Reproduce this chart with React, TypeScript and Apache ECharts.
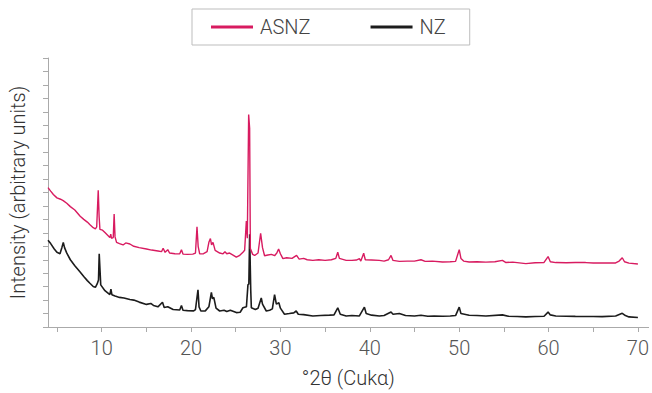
import React, { useEffect, useRef } from "react";
import * as echarts from "echarts";

// ASNZ (pink) diffractogram: 2θ positions and intensities (arbitrary units)
const asnzTheta = [
  4.0, 4.3, 4.6, 5.0, 5.4, 5.7, 6.1, 6.5, 7.0, 7.6, 8.0, 8.4, 8.7, 9.06, 9.3, 9.45, 9.62, 9.72, 9.81,
  10.1, 10.4, 10.7, 10.92, 11.02, 11.1, 11.3, 11.4, 11.5, 11.67, 12.0, 12.4, 12.7, 13.16, 13.6, 14.2,
  15.02, 15.6, 16.3, 16.7, 16.88, 17.1, 17.4, 17.6, 18.2, 18.74, 18.93, 19.1, 19.6, 20.2, 20.5, 20.67,
  20.8, 20.97, 21.4, 21.8, 22.0, 22.17, 22.3, 22.46, 22.7, 23.21, 23.58, 23.8, 24.0, 24.32, 24.7, 25.07,
  25.4, 25.81, 26.0, 26.19, 26.3, 26.45, 26.56, 26.64, 26.9, 27.12, 27.5, 27.79, 28.0, 28.23, 28.6, 29.0,
  29.35, 29.6, 29.8, 30.0, 30.28, 30.7, 31.3, 31.81, 32.1, 32.6, 33.0, 33.63, 34.3, 35.0, 35.7, 36.2,
  36.42, 36.6, 37.36, 38.0, 38.5, 38.84, 39.0, 39.32, 39.5, 40.2, 41.07, 41.6, 42.1, 42.38, 42.6, 43.31,
  44.2, 45.0, 45.73, 46.2, 47.0, 48.14, 49.0, 49.6, 50.01, 50.2, 50.5, 51.12, 52.0, 53.0, 54.0, 54.84,
  55.2, 56.0, 57.46, 58.5, 59.5, 59.95, 60.2, 60.81, 62.0, 63.0, 64.16, 65.0, 66.0, 67.51, 67.9, 68.25,
  68.5, 69.0, 70.0,
];
const asnzIntensity = [
  10.36, 10.1, 9.85, 9.6, 9.5, 9.4, 9.2, 8.95, 8.7, 8.23, 8.0, 7.8, 7.6, 7.38, 7.3, 7.45, 10.17, 8.2, 7.26,
  7.2, 7.0, 6.8, 6.65, 6.9, 6.6, 6.65, 8.4, 6.7, 6.29, 6.2, 6.1, 6.25, 6.17, 6.0, 5.9,
  5.8, 5.72, 5.65, 5.6, 5.85, 5.55, 5.75, 5.5, 5.45, 5.44, 5.75, 5.42, 5.4, 5.42, 5.5, 7.45,
  6.0, 5.44, 5.45, 5.6, 6.3, 6.58, 6.1, 6.29, 5.7, 5.5, 5.44, 5.6, 5.45, 5.5, 5.35, 5.19,
  5.3, 5.56, 5.7, 7.87, 6.6, 15.8, 14.78, 5.83, 5.4, 5.32, 5.5, 6.97, 5.9, 5.3, 5.35, 5.4,
  5.3, 5.5, 5.8, 5.45, 5.08, 5.15, 5.1, 5.32, 5.05, 5.1, 5.0, 4.95, 5.0, 4.95, 5.0, 5.1,
  5.56, 5.1, 4.95, 4.95, 4.98, 5.08, 4.9, 5.48, 5.0, 4.98, 4.95, 4.9, 5.0, 5.32, 4.95, 4.88,
  4.9, 4.9, 5.0, 4.88, 4.9, 4.83, 4.85, 4.88, 5.75, 5.1, 4.9, 4.83, 4.85, 4.82, 4.85, 4.95,
  4.8, 4.82, 4.71, 4.78, 4.8, 5.24, 4.85, 4.79, 4.78, 4.8, 4.79, 4.76, 4.77, 4.76, 4.9, 5.15,
  4.85, 4.75, 4.68,
];

// NZ (black) diffractogram
const nzTheta = [
  4.0, 4.3, 4.7, 5.0, 5.34, 5.55, 5.71, 5.85, 6.09, 6.5, 7.0, 7.57, 8.0, 8.4, 8.69, 9.06, 9.3, 9.5, 9.65,
  9.73, 9.85, 9.9, 10.37, 10.92, 11.04, 11.15, 11.5, 12.0, 12.5, 13.16, 13.6, 14.2, 15.02, 15.5, 15.8,
  16.3, 16.81, 17.0, 17.4, 18.0, 18.74, 18.93, 19.1, 19.6, 20.3, 20.5, 20.78, 20.9, 21.1, 21.6, 22.0,
  22.28, 22.4, 22.55, 22.8, 23.21, 23.7, 24.0, 24.4, 25.07, 25.5, 25.81, 26.2, 26.37, 26.47, 26.56,
  26.68, 26.75, 27.2, 27.5, 27.86, 28.0, 28.42, 28.8, 29.1, 29.35, 29.55, 29.83, 30.0, 30.46, 31.0,
  31.5, 31.77, 32.0, 32.6, 33.63, 34.5, 35.5, 36.0, 36.42, 36.7, 37.36, 38.0, 38.84, 39.4, 39.6, 40.2,
  41.07, 41.6, 42.38, 42.6, 43.31, 44.0, 45.0, 45.73, 46.5, 47.2, 48.14, 49.0, 49.6, 50.01, 50.2,
  51.12, 52.0, 53.0, 54.84, 55.5, 56.5, 57.46, 58.5, 59.5, 59.95, 60.2, 60.81, 62.0, 63.0, 64.16, 65.0,
  66.0, 67.51, 68.25, 68.6, 69.0, 70.0,
];
const nzIntensity = [
  6.45, 6.2, 5.8, 5.55, 5.45, 5.9, 6.29, 5.9, 5.51, 5.0, 4.55, 4.1, 3.75, 3.45, 3.25, 3.01, 2.95, 3.2, 3.5,
  5.44, 3.8, 3.13, 2.7, 2.4, 2.82, 2.4, 2.3, 2.2, 2.15, 2.04, 2.0, 1.85, 1.68, 1.75, 1.6,
  1.5, 1.84, 1.45, 1.5, 1.3, 1.26, 1.6, 1.25, 1.22, 1.2, 1.3, 2.77, 1.5, 1.19, 1.2, 1.5,
  2.57, 2.1, 2.2, 1.4, 1.19, 1.25, 1.15, 1.25, 1.07, 1.1, 1.43, 1.5, 3.13, 3.2, 6.9,
  2.8, 1.43, 1.3, 1.4, 2.16, 1.7, 1.19, 1.25, 1.35, 2.4, 1.7, 1.8, 1.4, 0.95, 1.0,
  1.05, 1.19, 0.95, 0.92, 0.82, 0.85, 0.88, 0.9, 1.43, 0.95, 0.82, 0.85, 0.82, 1.48, 1.0, 0.88,
  0.82, 0.85, 1.11, 0.95, 1.0, 0.85, 0.82, 0.87, 0.8, 0.82, 0.8, 0.82, 0.85, 1.48, 1.0,
  0.87, 0.85, 0.82, 0.9, 0.8, 0.78, 0.75, 0.78, 0.8, 1.11, 0.9, 0.82, 0.8, 0.79, 0.78, 0.78,
  0.77, 0.82, 1.02, 0.85, 0.75, 0.71,
];

const xTickValues = [5, 10, 15, 20, 25, 30, 35, 40, 45, 50, 55, 60, 65, 70];
const xLabelValues = [10, 20, 30, 40, 50, 60, 70];

const seriesNames = ["ASNZ", "NZ"];
const FONT = "Roboto, 'Noto Sans', sans-serif";

export default function App() {
  const ref = useRef<HTMLDivElement>(null);
  useEffect(() => {
    if (!ref.current) return;
    const chart = echarts.init(ref.current, null, { renderer: "svg" });
    const asnz = asnzTheta.map((t, i) => [t, asnzIntensity[i]]);
    const nz = nzTheta.map((t, i) => [t, nzIntensity[i]]);
    chart.setOption({
      animation: false,
      backgroundColor: "#ffffff",
      textStyle: { fontFamily: FONT },
      legend: {
        left: 192,
        top: 9,
        padding: [8, 24, 8, 19],
        itemGap: 60,
        itemWidth: 42,
        itemHeight: 3,
        icon: "rect",
        borderColor: "#bdbdbd",
        borderWidth: 1,
        textStyle: { fontSize: 20, color: "#444", fontWeight: 300, fontFamily: FONT, padding: [0, 0, 0, 2] },
        data: seriesNames,
      },
      grid: { left: 48, right: 2, top: 58, bottom: 60, containLabel: false },
      xAxis: {
        type: "value",
        min: 4,
        max: 71.2,
        name: "°2θ (Cukα)",
        nameLocation: "middle",
        nameGap: 41,
        nameTextStyle: { fontSize: 20, color: "#333", fontWeight: 300, fontFamily: FONT },
        axisLine: { show: true, lineStyle: { color: "#aaaaaa", width: 1 } },
        axisTick: { show: true, length: 5, lineStyle: { color: "#aaaaaa" }, customValues: xTickValues },
        axisLabel: { show: true, fontSize: 20, color: "#555", fontWeight: 300, margin: 11, customValues: xLabelValues },
        splitLine: { show: false },
      },
      yAxis: {
        type: "value",
        min: 0,
        max: 20,
        interval: 1,
        name: "Intensity (arbitrary units)",
        nameLocation: "middle",
        nameGap: 20,
        nameTextStyle: { fontSize: 20, color: "#333", fontWeight: 300, fontFamily: FONT },
        axisLine: { show: true, lineStyle: { color: "#aaaaaa", width: 1 } },
        axisTick: { show: true, length: 5, lineStyle: { color: "#aaaaaa" } },
        axisLabel: { show: false },
        splitLine: { show: false },
      },
      series: [
        {
          name: "NZ",
          type: "line",
          data: nz,
          symbol: "none",
          showSymbol: false,
          color: "#1c1c1c",
          lineStyle: { color: "#1c1c1c", width: 1.6 },
          z: 2,
        },
        {
          name: "ASNZ",
          type: "line",
          data: asnz,
          symbol: "none",
          showSymbol: false,
          color: "#d81b60",
          lineStyle: { color: "#d81b60", width: 1.4 },
          z: 3,
        },
      ],
    });
    return () => chart.dispose();
  }, []);
  return <div ref={ref} style={{ width: 652, height: 393, position: "absolute", left: 0, top: 0 }} />;
}
